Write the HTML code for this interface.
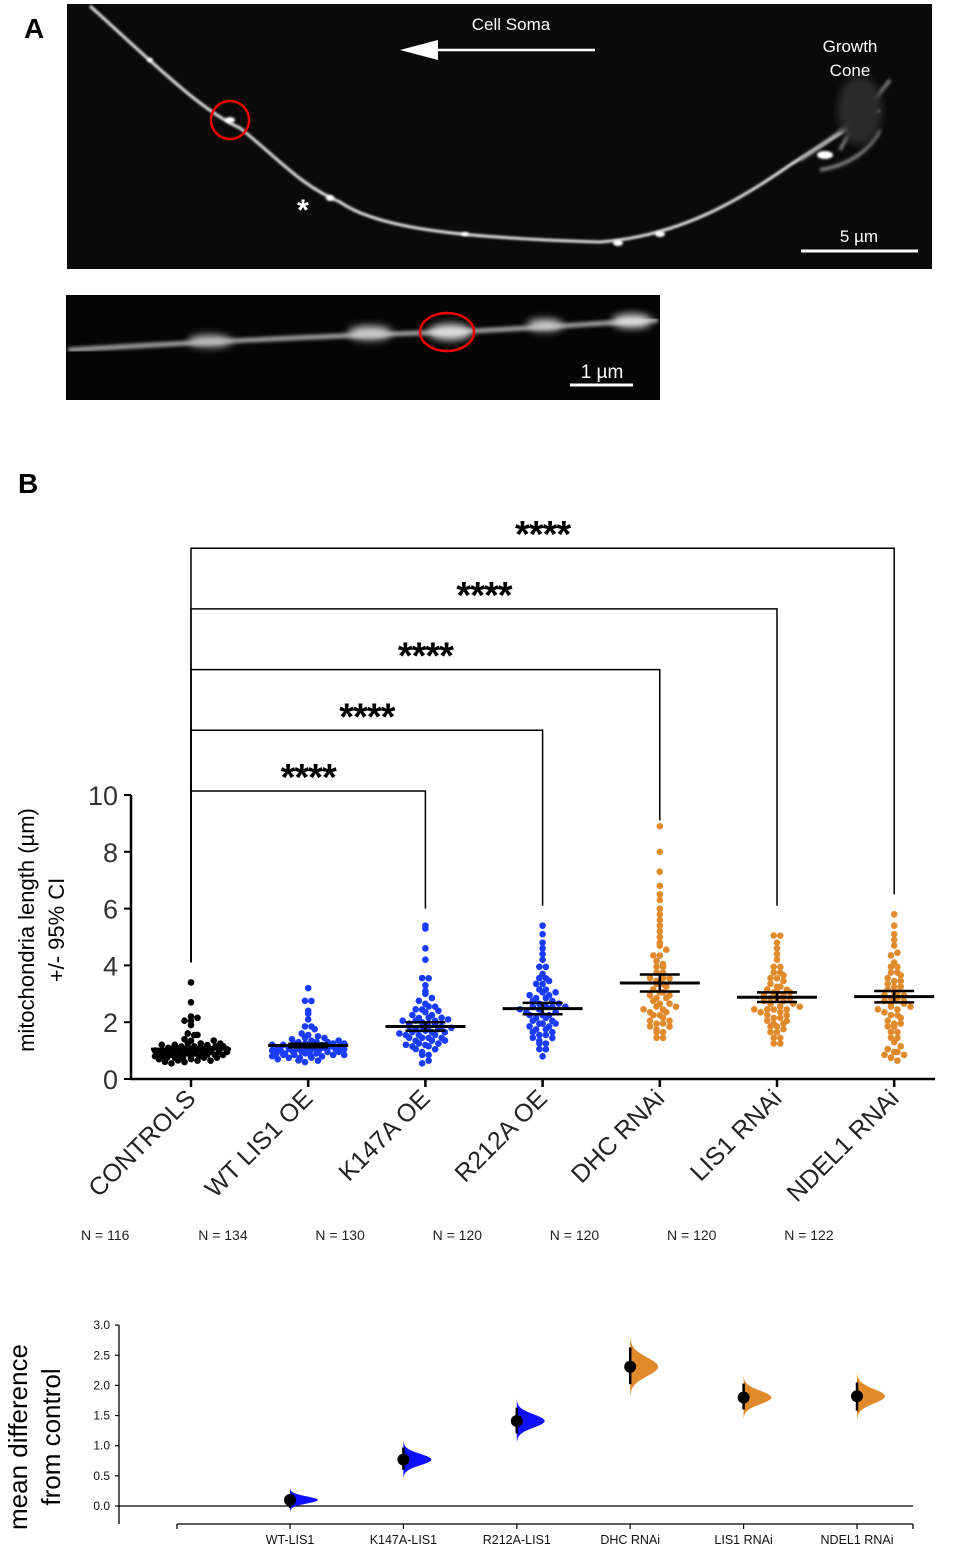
<!DOCTYPE html>
<html><head><meta charset="utf-8">
<style>
html,body{margin:0;padding:0;background:#fff;}
body{width:957px;height:1550px;overflow:hidden;font-family:"Liberation Sans",sans-serif;}
svg{display:block;}
</style></head>
<body>
<svg id="fig" width="957" height="1550" viewBox="0 0 957 1550" xmlns="http://www.w3.org/2000/svg">
<defs>
<filter id="blur1" x="-5%" y="-5%" width="110%" height="110%"><feGaussianBlur stdDeviation="1"/></filter>
<filter id="blur2" x="-5%" y="-5%" width="110%" height="110%"><feGaussianBlur stdDeviation="1.6"/></filter>
<filter id="blur4" x="-20%" y="-20%" width="140%" height="140%"><feGaussianBlur stdDeviation="4"/></filter>
</defs>
<!-- Panel A -->
<text x="24" y="38" font-size="28" font-weight="bold">A</text>
<g>
<rect x="67" y="4" width="865" height="265" fill="#0a0a0a"/>
<path d="M90,6 C150,60 200,110 240,128 C280,160 300,185 340,202 C380,230 470,238 600,242 C680,236 740,200 790,165 C830,140 860,120 880,110" stroke="#e0e0e0" stroke-width="3" fill="none" filter="url(#blur1)"/>
<path d="M800,160 C830,140 860,120 890,80 M820,170 C850,165 870,150 880,130 M840,150 C850,130 860,120 875,100" stroke="#999" stroke-width="3" fill="none" filter="url(#blur2)"/>
<ellipse cx="860" cy="110" rx="22" ry="35" fill="#2a2a2a" filter="url(#blur4)"/>
<g fill="#fff" filter="url(#blur1)">
<ellipse cx="230" cy="120" rx="5" ry="3"/><ellipse cx="330" cy="198" rx="4" ry="3"/><ellipse cx="465" cy="234" rx="4" ry="2"/>
<ellipse cx="618" cy="243" rx="5" ry="3"/><ellipse cx="660" cy="234" rx="5" ry="3"/><ellipse cx="825" cy="155" rx="8" ry="4"/><ellipse cx="150" cy="60" rx="3" ry="2"/>
</g>
<circle cx="230" cy="120" r="19" fill="none" stroke="#e00" stroke-width="2.5"/>
<text x="303" y="220" fill="#fff" font-size="30" font-weight="bold" text-anchor="middle">*</text>
<text x="511" y="30" fill="#fff" font-size="17" text-anchor="middle">Cell Soma</text>
<line x1="595" y1="50" x2="420" y2="50" stroke="#fff" stroke-width="2.5"/>
<polygon points="400,50 438,40 438,60" fill="#fff"/>
<text x="850" y="52" fill="#fff" font-size="17" text-anchor="middle"><tspan x="850">Growth</tspan><tspan x="850" dy="24">Cone</tspan></text>
<text x="859" y="242" fill="#fff" font-size="17" text-anchor="middle">5 µm</text>
<line x1="801" y1="251" x2="918" y2="251" stroke="#fff" stroke-width="3"/>
</g>
<g>
<rect x="66" y="295" width="594" height="105" fill="#050505"/>
<path d="M68,350 C200,342 320,336 450,332 C540,328 600,323 658,320" stroke="#999" stroke-width="5" fill="none" filter="url(#blur2)"/>
<g filter="url(#blur4)">
<ellipse cx="210" cy="341" rx="22" ry="6" fill="#bbb"/>
<ellipse cx="370" cy="333" rx="22" ry="7" fill="#ccc"/>
<ellipse cx="450" cy="332" rx="22" ry="8" fill="#ddd"/>
<ellipse cx="545" cy="325" rx="18" ry="6" fill="#ccc"/>
<ellipse cx="632" cy="321" rx="20" ry="7" fill="#ddd"/>
</g>
<ellipse cx="447" cy="332" rx="27" ry="19" fill="none" stroke="#e00" stroke-width="2.5"/>
<text x="602" y="378" fill="#fff" font-size="19" text-anchor="middle">1 µm</text>
<line x1="570" y1="385" x2="633" y2="385" stroke="#fff" stroke-width="3"/>
</g>
<!-- Panel B -->
<text x="18" y="493" font-size="28" font-weight="bold">B</text>
<g id="main"></g>
<g id="diff"></g>
</svg>
<script>
// ---------- main chart data ----------
const groups = ["CONTROLS","WT LIS1 OE","K147A OE","R212A OE","DHC RNAi","LIS1 RNAi","NDEL1 RNAi"];
const nLabels = ["N = 116","N = 134","N = 130","N = 120","N = 120","N = 120","N = 122"];
const groupColors = ["#000000","#1a3cff","#1a3cff","#1a3cff","#e08a2c","#e08a2c","#e08a2c"];
const means = [1.05,1.18,1.85,2.48,3.38,2.88,2.9];
const ciHalf = [0.08,0.06,0.15,0.2,0.3,0.17,0.2];
const yTicks = [0,2,4,6,8,10];
const sigStars = ["****","****","****","****","****"];
const sigTargets = [2,3,4,5,6];
const sigEnds = [6.0,6.1,9.1,6.1,6.5];
const vControls = [3.4,2.7,2.2,2.1,2.1,2.0,1.9,1.6,1.55,1.5,1.4,1.35,1.3,1.3,1.25,1.2,1.2,1.2,1.15,1.15,1.1,1.1,1.1,1.1,1.05,1.05,1.05,1.0,1.0,1.0,1.0,1.0,0.95,0.95,0.95,0.95,0.9,0.9,0.9,0.9,0.9,0.85,0.85,0.85,0.85,0.8,0.8,0.8,0.8,0.75,0.75,0.75,0.7,0.7,0.7,0.65,0.65,0.6,0.6,0.55,1.1,1.0,0.9,0.8,1.2,1.05,0.95,0.85,1.15,0.7];
const vWT = [3.2,2.8,2.7,2.4,2.3,2.1,1.9,1.8,1.7,1.6,1.55,1.5,1.45,1.4,1.4,1.35,1.3,1.3,1.3,1.25,1.25,1.2,1.2,1.2,1.2,1.15,1.15,1.15,1.1,1.1,1.1,1.1,1.05,1.05,1.05,1.0,1.0,1.0,1.0,0.95,0.95,0.95,0.9,0.9,0.9,0.85,0.85,0.85,0.8,0.8,0.8,0.75,0.75,0.7,0.7,0.65,0.6,1.25,1.15,1.05,0.95,0.85,1.35,0.8,0.9,1.0,1.1];
const vK147A = [5.4,5.3,4.6,4.2,3.6,3.5,3.3,3.1,3.0,2.8,2.7,2.7,2.6,2.5,2.5,2.4,2.3,2.3,2.2,2.2,2.1,2.1,2.1,2.0,2.0,2.0,1.9,1.9,1.9,1.8,1.8,1.8,1.7,1.7,1.7,1.6,1.6,1.6,1.5,1.5,1.5,1.4,1.4,1.4,1.3,1.3,1.3,1.2,1.2,1.1,1.1,1.0,1.0,0.9,0.8,0.7,0.5,1.25,1.15,1.55,1.65,1.75,2.05,2.15,2.35];
const vR212A = [5.4,5.1,4.8,4.6,4.4,4.2,4.0,3.9,3.7,3.6,3.5,3.4,3.3,3.2,3.1,3.0,3.0,2.9,2.9,2.8,2.8,2.7,2.7,2.6,2.6,2.5,2.5,2.5,2.4,2.4,2.3,2.3,2.2,2.2,2.1,2.1,2.0,2.0,1.9,1.9,1.8,1.8,1.7,1.7,1.6,1.6,1.5,1.4,1.4,1.3,1.2,1.1,1.0,0.8,2.6,2.2,3.0,3.4,1.5,1.9];
const vDHC = [8.9,8.0,7.3,6.8,6.5,6.3,6.0,5.8,5.6,5.4,5.2,5.0,4.8,4.7,4.5,4.4,4.3,4.1,4.0,3.9,3.8,3.7,3.6,3.5,3.5,3.4,3.3,3.2,3.1,3.0,3.0,2.9,2.8,2.7,2.7,2.6,2.5,2.5,2.4,2.3,2.3,2.2,2.1,2.1,2.0,2.0,1.9,1.8,1.8,1.7,1.6,1.5,1.4,3.5,2.9,2.4,4.1,1.9,2.6,3.1];
const vLIS1 = [5.1,5.0,4.8,4.6,4.4,4.2,4.0,3.9,3.8,3.7,3.6,3.5,3.4,3.3,3.3,3.2,3.1,3.1,3.0,3.0,2.9,2.9,2.8,2.8,2.7,2.7,2.6,2.6,2.5,2.5,2.4,2.4,2.3,2.3,2.2,2.2,2.1,2.0,2.0,1.9,1.8,1.7,1.7,1.6,1.5,1.4,1.3,1.2,2.8,3.2,2.5,3.6,2.1,1.9,3.0,2.4];
const vNDEL1 = [5.8,5.4,5.1,4.9,4.7,4.5,4.3,4.1,4.0,3.9,3.8,3.7,3.6,3.5,3.4,3.3,3.3,3.2,3.1,3.0,3.0,2.9,2.9,2.8,2.8,2.7,2.6,2.6,2.5,2.4,2.4,2.3,2.2,2.1,2.0,2.0,1.9,1.8,1.7,1.6,1.5,1.4,1.3,1.1,1.0,0.9,0.9,0.8,0.7,0.7,2.7,3.1,3.5,2.5,1.9,1.0,0.8];
const groupValues = [vControls,vWT,vK147A,vR212A,vDHC,vLIS1,vNDEL1];

// ---------- difference chart data ----------
const diffLabels = ["WT-LIS1","K147A-LIS1","R212A-LIS1","DHC RNAi","LIS1 RNAi","NDEL1 RNAi"];
const diffMeans = [0.1,0.77,1.41,2.31,1.80,1.82];
const diffLo = [-0.03,0.6,1.2,2.02,1.6,1.58];
const diffHi = [0.2,0.97,1.63,2.63,2.03,2.05];
const diffColors = ["#1010ff","#1010ff","#1010ff","#e08a2c","#e08a2c","#e08a2c"];
const diffTicks = [0.0,0.5,1.0,1.5,2.0,2.5,3.0];

const NS="http://www.w3.org/2000/svg";
function mk(parent,tag,attrs,text){const e=document.createElementNS(NS,tag);for(const k in attrs)e.setAttribute(k,attrs[k]);if(text!==undefined)e.textContent=text;parent.appendChild(e);return e;}

const gx = i => 191 + i*117.2;
const gy = v => 1079 - v*28.4;
const main = document.getElementById('main');
let e;
e=mk(main,'line',{x1:131,y1:gy(10),x2:131,y2:1080,stroke:'#000','stroke-width':2.5});


e=mk(main,'line',{x1:130,y1:1079,x2:935,y2:1079,stroke:'#000','stroke-width':2.5});


yTicks.forEach(t=>{
  e=mk(main,'line',{x1:124,y1:gy(t),x2:131,y2:gy(t),stroke:'#000','stroke-width':2});
  
  
  e=mk(main,'text',{x:118,y:gy(t)+10,'font-size':27,'text-anchor':'end',fill:'#333'},String(t));
  
  
});
e=mk(main,'text',{transform:'translate(34,930) rotate(-90)','font-size':22,'text-anchor':'middle'},'mitochondria length (µm)');


e=mk(main,'text',{transform:'translate(64,930) rotate(-90)','font-size':22,'text-anchor':'middle'},'+/- 95% CI');



groups.forEach((g,i)=>{
  const x=gx(i);
  e=mk(main,'line',{x1:x,y1:1079,x2:x,y2:1087,stroke:'#000','stroke-width':2.5});
  
  
  e=mk(main,'text',{transform:`translate(${x+6},${1100}) rotate(-45)`,'font-size':25,'text-anchor':'end',fill:'#222'},g);
  
  
  e=mk(main,'text',{x:x-110,y:1240,'font-size':14,fill:'#222'},nLabels[i]);
  
  
  // swarm: bin by y, spread each bin evenly within a capped width
  const vals=groupValues[i].slice().sort((a,b)=>a-b);
  const bins={};
  vals.forEach(v=>{const b=Math.round(gy(v)/6);(bins[b]=bins[b]||[]).push(v);});
  Object.keys(bins).forEach(b=>{
    const arr=bins[b];const n=arr.length;
    const w=Math.min((n-1)*6.5,72);
    arr.forEach((v,k)=>{
      const off=n===1?0:-w/2+w*k/(n-1);
      const jy=(k%2?1.5:-1.5)*(n>1?1:0);
      e=mk(main,'circle',{cx:x+off,cy:gy(v)+jy,r:3.3,fill:groupColors[i]});
      
      
    });
  });
  const m=means[i],c=ciHalf[i];
  e=mk(main,'line',{x1:x-40,y1:gy(m),x2:x+40,y2:gy(m),stroke:'#000','stroke-width':3});
  
  
  e=mk(main,'path',{d:`M${x-20},${gy(m+c)}H${x+20}M${x-20},${gy(m-c)}H${x+20}M${x},${gy(m+c)}V${gy(m-c)}`,stroke:'#000','stroke-width':2.5,fill:'none'});
  
  
});
sigTargets.forEach((t,k)=>{
  const top=791-k*60.7;
  const x0=gx(0),x1=gx(t);
  e=mk(main,'path',{d:`M${x0},${gy(4.1)}V${top}H${x1}V${gy(sigEnds[k])}`,stroke:'#000','stroke-width':1.5,fill:'none'});
  
  
  e=mk(main,'text',{x:(x0+x1)/2,y:top-1,'font-size':38,'font-weight':'bold','text-anchor':'middle','letter-spacing':'-1'},sigStars[k]);
  
  
});

const dx = i => 290 + i*113.4;
const dy = v => 1506 - v*60.3;
const diff=document.getElementById('diff');
e=mk(diff,'line',{x1:119,y1:1325,x2:119,y2:1524,stroke:'#000','stroke-width':1.3});


e=mk(diff,'line',{x1:119,y1:dy(0),x2:913,y2:dy(0),stroke:'#000','stroke-width':1.3});


e=mk(diff,'line',{x1:177,y1:1524,x2:913,y2:1524,stroke:'#000','stroke-width':1.3});


[177,913].forEach(xx=>{e=mk(diff,'line',{x1:xx,y1:1524,x2:xx,y2:1529,stroke:'#000','stroke-width':1.3});

});
diffTicks.forEach(t=>{
  e=mk(diff,'line',{x1:115,y1:dy(t),x2:119,y2:dy(t),stroke:'#000','stroke-width':1.2});
  
  
  e=mk(diff,'text',{x:110,y:dy(t)+4,'font-size':12,'text-anchor':'end',fill:'#111'},t.toFixed(1));
  
  
});
e=mk(diff,'text',{transform:'translate(27,1437) rotate(-90)','font-size':26,'text-anchor':'middle'},'mean difference');


e=mk(diff,'text',{transform:'translate(60,1437) rotate(-90)','font-size':26,'text-anchor':'middle'},'from control');


diffLabels.forEach((l,i)=>{
  const x=dx(i);
  e=mk(diff,'line',{x1:x,y1:1524,x2:x,y2:1529,stroke:'#000','stroke-width':1.2});
  
  
  e=mk(diff,'text',{x:x,y:1544,'font-size':12.5,'text-anchor':'middle',fill:'#111'},l);
  
  
  const m=diffMeans[i],sd=(diffHi[i]-diffLo[i])/3.92;
  let d=`M${x},${dy(m-3.2*sd)}`;
  for(let z=-3.2;z<=3.2001;z+=0.2){d+=`L${x+28*Math.exp(-z*z/2)},${dy(m+z*sd)}`;}
  d+=`L${x},${dy(m+3.2*sd)}Z`;
  e=mk(diff,'path',{d:d,fill:diffColors[i]});
  
  
  e=mk(diff,'line',{x1:x,y1:dy(diffLo[i]),x2:x,y2:dy(diffHi[i]),stroke:'#000','stroke-width':2.5});
  
  
  e=mk(diff,'circle',{cx:x,cy:dy(m),r:6,fill:'#000'});
  
  
});
</script>
</body></html>
